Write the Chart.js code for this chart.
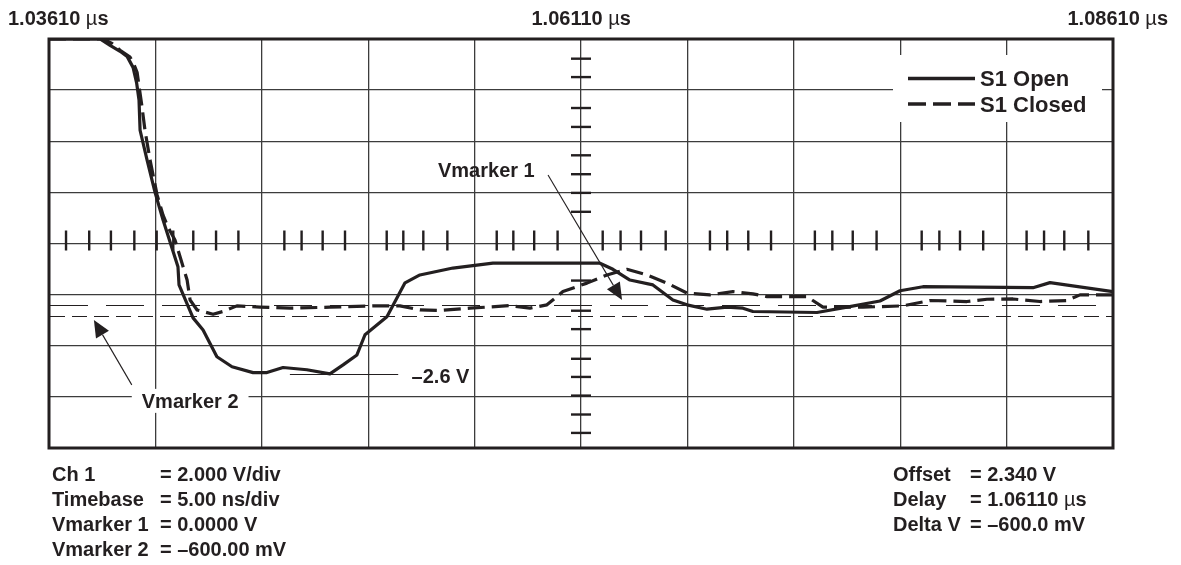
<!DOCTYPE html>
<html><head><meta charset="utf-8">
<script src="https://cdn.jsdelivr.net/npm/chart.js@4/dist/chart.umd.min.js"></script>
<style>
html,body{margin:0;padding:0;background:#fff;}
#wrap{position:relative;width:1181px;height:565px;overflow:hidden;font-family:"Liberation Sans",Arial,Helvetica,sans-serif;font-weight:bold;font-size:20px;color:#231f20;}
#c{position:absolute;left:0;top:0;}
.t{position:absolute;white-space:pre;line-height:25px;}
.mu{font-weight:normal;}
</style></head><body>
<div id="wrap">
<canvas id="c" width="1181" height="565"></canvas>
</div>
<script>
// ---------------- data ----------------
const timeLabels = ['1.03610 µs', '1.06110 µs', '1.08610 µs'];
const xGrid = [1036.1,1041.1,1046.1,1051.1,1056.1,1061.1,1066.1,1071.1,1076.1,1081.1,1086.1]; // ns
const yGrid = [-5.66,-3.66,-1.66,0.34,2.34,4.34,6.34,8.34,10.34]; // V
const centerTime = 1061.1;
const centerVolt = 2.34;
const hMinorTicks = [1036.90,1037.99,1039.01,1040.11,1041.16,1041.94,1042.88,1043.95,1045.00,1047.16,1047.97,1048.96,1050.01,1051.97,1052.75,1053.69,1054.82,1057.14,1057.92,1058.90,1060.00,1062.12,1062.96,1063.92,1065.08,1067.16,1067.97,1068.96,1070.03,1072.09,1072.91,1073.87,1074.99,1077.11,1077.94,1078.91,1080.00,1082.04,1082.86,1083.81,1084.94];
const vMinorTicks = [9.57,8.85,7.64,6.90,5.79,5.05,4.32,3.58,0.89,-0.29,-1.01,-2.17,-2.88,-3.61,-4.35,-5.07];
const markerVolts = [-0.06, -0.50];

const openTimes = [1036.10,1038.50,1038.97,1039.44,1039.77,1040.05,1040.22,1040.33,1040.38,1040.71,1041.08,1041.46,1042.16,1042.21,1042.87,1043.34,1043.99,1044.70,1045.69,1046.34,1047.10,1048.22,1049.30,1049.92,1050.57,1050.95,1051.98,1052.83,1053.53,1055.08,1056.96,1061.99,1062.60,1063.40,1064.48,1065.42,1066.08,1067.02,1067.96,1068.71,1069.18,1072.19,1073.60,1075.15,1076.09,1077.17,1082.34,1083.14,1086.10];
const openVolts = [10.34,10.34,10.09,9.86,9.66,9.23,8.61,7.95,6.77,5.60,4.35,3.26,1.43,0.72,-0.57,-1.04,-2.09,-2.48,-2.71,-2.71,-2.51,-2.60,-2.76,-2.41,-2.02,-1.23,-0.53,0.80,1.11,1.38,1.57,1.57,1.33,0.91,0.72,0.13,-0.06,-0.23,-0.15,-0.19,-0.32,-0.36,-0.15,0.09,0.49,0.65,0.61,0.81,0.46];

const closedTimes = [1036.10,1038.64,1039.06,1039.44,1039.91,1040.09,1040.24,1040.34,1040.46,1040.61,1040.85,1041.18,1041.46,1041.69,1042.02,1042.59,1042.73,1043.06,1043.81,1044.28,1044.93,1046.02,1047.43,1049.30,1051.33,1052.59,1053.53,1054.47,1055.88,1057.76,1058.70,1059.50,1060.25,1061.38,1062.32,1063.26,1064.20,1065.14,1066.08,1067.16,1068.24,1069.18,1069.84,1071.72,1072.47,1074.35,1076.23,1077.50,1079.24,1080.18,1081.40,1082.67,1083.94,1084.55,1086.10];
const closedVolts = [10.34,10.34,10.17,9.90,9.63,9.35,9.04,8.45,7.75,6.77,5.60,4.24,3.45,2.98,2.48,0.91,0.13,-0.26,-0.43,-0.32,-0.10,-0.15,-0.19,-0.15,-0.10,-0.10,-0.26,-0.28,-0.19,-0.09,-0.19,-0.06,0.46,0.79,1.11,1.33,1.11,0.79,0.40,0.33,0.46,0.37,0.26,0.26,-0.15,-0.15,-0.10,0.11,0.07,0.16,0.17,0.07,0.11,0.33,0.33];

const seriesNames = ['S1 Open', 'S1 Closed'];
const leftInfo = [['Ch 1','= 2.000 V/div'],['Timebase','= 5.00 ns/div'],['Vmarker 1','= 0.0000 V'],['Vmarker 2','= –600.00 mV']];
const rightInfo = [['Offset','= 2.340 V'],['Delay','= 1.06110 µs'],['Delta V','= –600.0 mV']];
const annotationTexts = ['Vmarker 1','Vmarker 2','–2.6 V'];

// ---------------- text outside the plot ----------------
const wrap = document.getElementById('wrap');
function esc(s){return s.replace(/µ/g,'<span class="mu">µ</span>');}
function addText(html, css){const d=document.createElement('div');d.className='t';d.innerHTML=html;Object.assign(d.style,css);wrap.appendChild(d);return d;}
addText(esc(timeLabels[0]), {left:'8px', top:'6px'});
const mid = addText(esc(timeLabels[1]), {top:'6px', left:'0px'});
mid.style.left = (581 - mid.offsetWidth/2) + 'px';
addText(esc(timeLabels[2]), {right:'13px', top:'6px'});
addText(leftInfo.map(r=>r[0]).join('<br>'), {left:'52px', top:'462px'});
addText(leftInfo.map(r=>esc(r[1])).join('<br>'), {left:'160px', top:'462px'});
addText(rightInfo.map(r=>r[0]).join('<br>'), {left:'893px', top:'462px'});
addText(rightInfo.map(r=>esc(r[1])).join('<br>'), {left:'970px', top:'462px'});

// ---------------- chart ----------------
const INK = '#231f20';
const FONT = 'bold 20px "Liberation Sans", Arial, sans-serif';

function drawArrow(ctx, x1, y1, x2, y2, len, half){
  const a = Math.atan2(y2-y1, x2-x1);
  const bx = x2 - Math.cos(a)*len, by = y2 - Math.sin(a)*len;
  ctx.beginPath(); ctx.moveTo(x1,y1); ctx.lineTo(bx,by); ctx.stroke();
  ctx.beginPath();
  ctx.moveTo(x2,y2);
  ctx.lineTo(bx + Math.sin(a)*half, by - Math.cos(a)*half);
  ctx.lineTo(bx - Math.sin(a)*half, by + Math.cos(a)*half);
  ctx.closePath(); ctx.fill();
}

const scopePlugin = {
  id: 'scope',
  beforeDatasetsDraw(chart){
    const {ctx, chartArea:{left,right,top,bottom}, scales:{x,y}} = chart;
    ctx.save();
    ctx.strokeStyle = INK; ctx.fillStyle = INK;
    // marker lines
    ctx.lineWidth = 1.2;
    const dashes = [[38,18],[15,7]];
    markerVolts.forEach((v,i)=>{
      const py = Math.round(y.getPixelForValue(v))+0.5;
      ctx.setLineDash(dashes[i]); ctx.lineDashOffset = -1;
      ctx.beginPath(); ctx.moveTo(left,py); ctx.lineTo(right,py); ctx.stroke();
    });
    ctx.setLineDash([]);
    // centre axis minor ticks
    ctx.lineWidth = 2.4;
    const cy = y.getPixelForValue(centerVolt), cx = x.getPixelForValue(centerTime);
    hMinorTicks.forEach(t=>{
      const px = x.getPixelForValue(t);
      ctx.beginPath(); ctx.moveTo(px, cy-13); ctx.lineTo(px, cy+7); ctx.stroke();
    });
    vMinorTicks.forEach(v=>{
      const py = y.getPixelForValue(v);
      ctx.beginPath(); ctx.moveTo(cx-10, py); ctx.lineTo(cx+10, py); ctx.stroke();
    });
    // white masks (legend box, Vmarker 2 label)
    ctx.fillStyle = '#fff';
    ctx.fillRect(right-220, top+16, 209, 67);
    ctx.font = FONT;
    const l2x = x.getPixelForValue(1040.46), l2y = y.getPixelForValue(-4.09);
    const w2 = ctx.measureText(annotationTexts[1]).width;
    ctx.fillRect(l2x-10, l2y-19, w2+20, 24);
    ctx.restore();
  },
  afterDatasetsDraw(chart){
    const {ctx, chartArea:{left,right,top,bottom}, scales:{x,y}} = chart;
    ctx.save();
    ctx.strokeStyle = INK; ctx.fillStyle = INK;
    // frame
    ctx.lineWidth = 3;
    ctx.strokeRect(left, top, right-left, bottom-top);
    // legend
    ctx.lineWidth = 3.6;
    ctx.beginPath(); ctx.moveTo(right-205, top+39.5); ctx.lineTo(right-138, top+39.5); ctx.stroke();
    ctx.setLineDash([18,7]);
    ctx.beginPath(); ctx.moveTo(right-205, top+65); ctx.lineTo(right-138, top+65); ctx.stroke();
    ctx.setLineDash([]);
    ctx.font = 'bold 22px "Liberation Sans", Arial, sans-serif';
    ctx.textBaseline = 'alphabetic'; ctx.textAlign = 'left';
    ctx.fillText(seriesNames[0], right-133, top+47);
    ctx.fillText(seriesNames[1], right-133, top+72.5);
    // annotations
    ctx.font = FONT;
    ctx.fillText(annotationTexts[0], x.getPixelForValue(1054.38), y.getPixelForValue(4.96));
    ctx.fillText(annotationTexts[1], x.getPixelForValue(1040.46), y.getPixelForValue(-4.09));
    ctx.fillText(annotationTexts[2], x.getPixelForValue(1053.14), y.getPixelForValue(-3.12));
    ctx.lineWidth = 1.1;
    drawArrow(ctx, x.getPixelForValue(1059.55), y.getPixelForValue(5.02), x.getPixelForValue(1063.03), y.getPixelForValue(0.13), 17, 7.5);
    drawArrow(ctx, x.getPixelForValue(1039.99), y.getPixelForValue(-3.19), x.getPixelForValue(1038.21), y.getPixelForValue(-0.65), 17, 7.5);
    const ly = Math.round(y.getPixelForValue(-2.77))+0.5;
    ctx.beginPath(); ctx.moveTo(x.getPixelForValue(1047.42), ly); ctx.lineTo(x.getPixelForValue(1052.51), ly); ctx.stroke();
    ctx.restore();
  }
};

const gridOpts = {color:'#3c3c3c', lineWidth:1.3, drawTicks:false};
new Chart(document.getElementById('c'), {
  type: 'line',
  data: {
    datasets: [
      {label: seriesNames[0], data: openTimes.map((t,i)=>({x:t, y:openVolts[i]})),
       borderColor: INK, borderWidth: 3.2, pointRadius: 0, tension: 0, fill: false,
       borderJoinStyle: 'round', borderCapStyle: 'round'},
      {label: seriesNames[1], data: closedTimes.map((t,i)=>({x:t, y:closedVolts[i]})),
       borderColor: INK, borderWidth: 3.2, pointRadius: 0, tension: 0, fill: false,
       borderDash: [17,7], borderJoinStyle: 'round'}
    ]
  },
  options: {
    responsive: false, animation: false, devicePixelRatio: 1,
    layout: {padding: {left: 49, top: 39, right: 68, bottom: 117}},
    plugins: {legend: {display: false}, tooltip: {enabled: false}},
    events: [],
    scales: {
      x: {type: 'linear', min: xGrid[0], max: xGrid[xGrid.length-1],
          afterBuildTicks: s => { s.ticks = xGrid.map(v => ({value: v})); },
          ticks: {display: false}, grid: gridOpts, border: {display: false}},
      y: {type: 'linear', min: yGrid[0], max: yGrid[yGrid.length-1],
          afterBuildTicks: s => { s.ticks = yGrid.map(v => ({value: v})); },
          ticks: {display: false}, grid: gridOpts, border: {display: false}}
    }
  },
  plugins: [scopePlugin]
});
</script>
</body></html>
